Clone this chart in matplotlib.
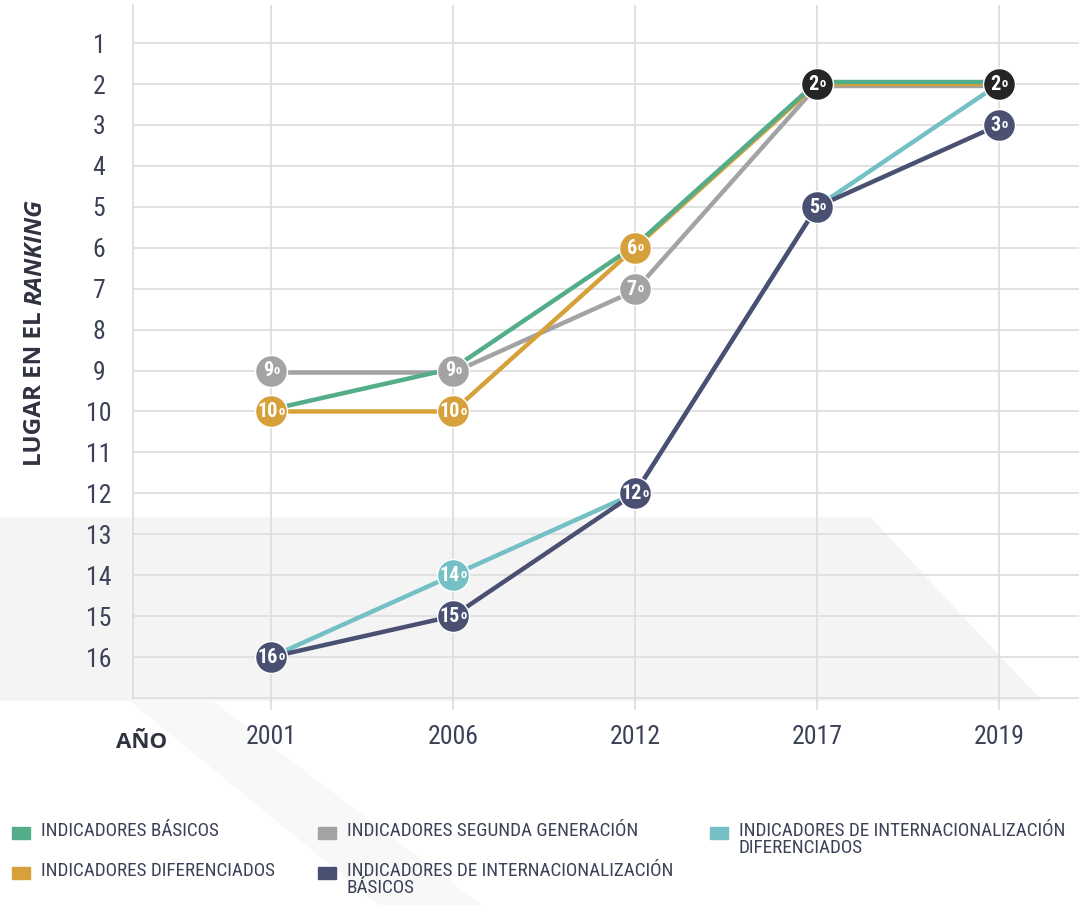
import matplotlib
matplotlib.use('Agg')
import matplotlib.pyplot as plt
import matplotlib.transforms as mtransforms
from matplotlib.patches import Rectangle, Polygon

# --- data ---
years = ['2001', '2006', '2012', '2017', '2019']
rank_ticks = list(range(1, 17))

basicos = [10, 9, 6, 2, 2]
diferenciados = [10, 10, 6, 2, 2]
segunda_gen = [9, 9, 7, 2, 2]
intl_basicos = [16, 15, 12, 5, 3]
intl_diferenciados = [16, 14, 12, 5, 2]

# which points carry a numbered badge
badge_diferenciados = [True, True, True, False, False]
badge_segunda_gen = [True, True, True, False, False]
badge_intl_basicos = [True, True, True, True, True]
badge_intl_diferenciados = [False, True, False, False, False]

legend_labels = [
    'INDICADORES BÁSICOS',
    'INDICADORES DIFERENCIADOS',
    'INDICADORES SEGUNDA GENERACIÓN',
    'INDICADORES DE INTERNACIONALIZACIÓN\nBÁSICOS',
    'INDICADORES DE INTERNACIONALIZACIÓN\nDIFERENCIADOS',
]

GREEN = '#52ad88'
ORANGE = '#d6a13a'
GRAY = '#a3a3a6'
NAVY = '#4a5072'
TEAL = '#74c0c4'
BLACK = '#252525'
TEXT = '#3b4157'
GRID = '#dcdcdc'

# narrowest family that is installed wins
NARROW = ['Liberation Sans Narrow', 'Roboto Condensed', 'Roboto', 'DejaVu Sans']
WIDE = ['Open Sans', 'DejaVu Sans']
plt.rcParams['font.family'] = NARROW

W, H = 1079, 905
fig = plt.figure(figsize=(W / 100, H / 100), dpi=100)
fig.patch.set_facecolor('white')

# faint diagonal background shading
fig.patches.append(Polygon([(0, 1 - 518 / H), (870 / W, 1 - 518 / H), (1040 / W, 1 - 700 / H), (0, 1 - 700 / H)],
                           closed=True, transform=fig.transFigure, color='#f4f4f4', zorder=-5))
fig.patches.append(Polygon([(130 / W, 1 - 700 / H), (210 / W, 1 - 700 / H), (480 / W, 0), (380 / W, 0)],
                           closed=True, transform=fig.transFigure, color='#f8f8f8', zorder=-5))

ax = fig.add_axes([133 / W, 207 / H, (W - 133) / W, (900 - 207) / H])
ax.set_facecolor('none')

x = list(range(len(years)))

up = mtransforms.offset_copy(ax.transData, fig=fig, x=0, y=2, units='dots')
down = mtransforms.offset_copy(ax.transData, fig=fig, x=0, y=-2, units='dots')

lw = 3.2
ax.plot(x, intl_diferenciados, color=TEAL, lw=lw, zorder=3, solid_capstyle='round')
ax.plot(x, intl_basicos, color=NAVY, lw=lw, zorder=4, solid_capstyle='round')
ax.plot(x, segunda_gen, color=GRAY, lw=lw, zorder=5, transform=down, solid_capstyle='round')
ax.plot(x, diferenciados, color=ORANGE, lw=lw, zorder=6, solid_capstyle='round')
ax.plot(x, basicos, color=GREEN, lw=lw, zorder=7, transform=up, solid_capstyle='round')


def badge(xi, value, color):
    ax.plot(xi, value, 'o', ms=23, mfc=color, mec='white', mew=1.0, zorder=10)
    n = len(str(value))
    shift = (10 * n - 6) / 2 * 0.72
    ax.annotate(str(value), (xi, value), xytext=(shift, -0.3), textcoords='offset points',
                ha='right', va='center', color='white', fontsize=14.5, fontweight='bold', zorder=11)
    ax.annotate('o', (xi, value), xytext=(shift + 0.2, 0.2), textcoords='offset points',
                ha='left', va='center', color='white', fontsize=9, fontweight='bold', zorder=11)


for i in x:
    if badge_segunda_gen[i]:
        badge(i, segunda_gen[i], GRAY)
    if badge_diferenciados[i]:
        badge(i, diferenciados[i], ORANGE)
    if badge_intl_diferenciados[i]:
        badge(i, intl_diferenciados[i], TEAL)
    if badge_intl_basicos[i]:
        badge(i, intl_basicos[i], NAVY)
    # shared position of the three general indicators
    if basicos[i] == diferenciados[i] == segunda_gen[i]:
        badge(i, basicos[i], BLACK)

ax.set_xlim(-0.758, 4.44)
ax.set_ylim(17, 0.07)

ax.set_xticks(x)
ax.set_xticklabels(years)
ax.set_yticks(rank_ticks)
ax.set_yticklabels([str(r) for r in rank_ticks])
ax.tick_params(axis='x', length=8.6, width=1.2, color=GRID, pad=11, labelsize=18.5, labelcolor=TEXT)
ax.tick_params(axis='y', length=0, pad=24.5, labelsize=18.5, labelcolor=TEXT)
for t in ax.get_yticklabels():
    t.set_horizontalalignment('center')

ax.grid(True, color=GRID, linewidth=1.2)
ax.set_axisbelow(True)
for side in ['top', 'right']:
    ax.spines[side].set_visible(False)
for side in ['left', 'bottom']:
    ax.spines[side].set_color(GRID)
    ax.spines[side].set_linewidth(1.2)

fig.text(142 / W, 1 - 743 / H, 'AÑO', ha='center', va='center', fontsize=16,
         fontweight='bold', family=WIDE, color='#2f3340')

# y label with italic RANKING
t1 = fig.text(35 / W, 1 - 466 / H, 'LUGAR EN EL', rotation=90, ha='center', va='bottom',
              fontsize=17.5, fontweight='bold', family=WIDE, color='#2f3340')
fig.canvas.draw()
bb = t1.get_window_extent()
fig.text(35 / W, (bb.y1 + 6) / H, 'RANKING', rotation=90, ha='center', va='bottom',
         fontsize=17.5, fontweight='bold', style='italic', family=WIDE, color='#2f3340')

# legend, laid out like the original
legend_colors = [GREEN, ORANGE, GRAY, NAVY, TEAL]
legend_pos = [(12, 833), (12, 873), (318, 833), (318, 873), (710, 833)]
for label, color, (lx, ly) in zip(legend_labels, legend_colors, legend_pos):
    fig.patches.append(Rectangle((lx / W, 1 - (ly + 6) / H), 18 / W, 12 / H,
                                 transform=fig.transFigure, color=color))
    fig.text((lx + 29) / W, 1 - (ly - 11) / H, label, ha='left', va='top', fontsize=13.8,
             color=TEXT, linespacing=0.9)

fig.savefig('out.png', dpi=100)
